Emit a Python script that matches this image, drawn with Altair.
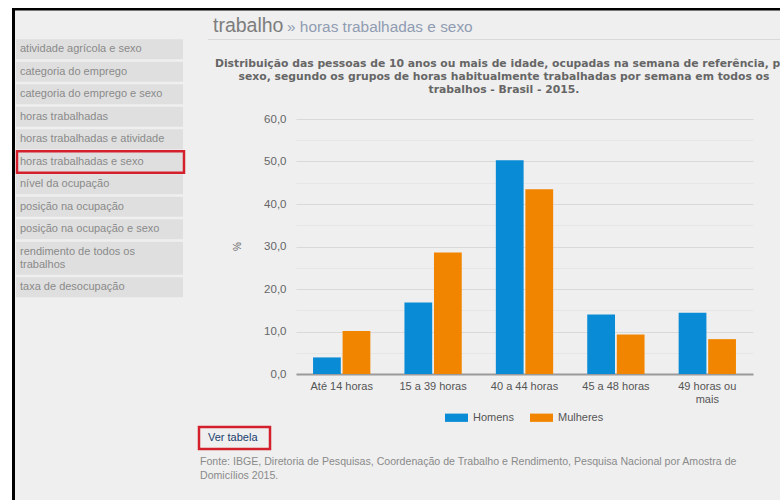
import altair as alt
import pandas as pd

# ---------------- data ----------------
categories = ["Até 14 horas", "15 a 39 horas", "40 a 44 horas", "45 a 48 horas", "49 horas ou mais"]
series = ["Homens", "Mulheres"]
homens = [3.9, 16.8, 50.3, 14.0, 14.4]
mulheres = [10.1, 28.6, 43.5, 9.3, 8.2]
colors = ["#0a8bd6", "#f28500"]
y_values = [0, 5, 10, 15, 20, 25, 30, 35, 40, 45, 50, 55, 60]

menu_items = [
    "atividade agrícola e sexo",
    "categoria do emprego",
    "categoria do emprego e sexo",
    "horas trabalhadas",
    "horas trabalhadas e atividade",
    "horas trabalhadas e sexo",
    "nível da ocupação",
    "posição na ocupação",
    "posição na ocupação e sexo",
    "rendimento de todos os\ntrabalhos",
    "taxa de desocupação",
]
menu_selected = "horas trabalhadas e sexo"
header_main = "trabalho"
header_sub = "» horas trabalhadas e sexo"
title_lines = [
    "Distribuição das pessoas de 10 anos ou mais de idade, ocupadas na semana de referência, por",
    "sexo, segundo os grupos de horas habitualmente trabalhadas por semana em todos os",
    "trabalhos - Brasil - 2015.",
]
link_text = "Ver tabela"
source_lines = [
    "Fonte: IBGE, Diretoria de Pesquisas, Coordenação de Trabalho e Rendimento, Pesquisa Nacional por Amostra de",
    "Domicílios 2015.",
]

df = pd.DataFrame({
    "categoria": categories * 2,
    "sexo": [series[0]] * len(categories) + [series[1]] * len(categories),
    "valor": homens + mulheres,
})

# ---------------- layout ----------------
PL, PT = 296, 119          # plot origin in page pixels
W, H = 457, 255
SANS = "Liberation Sans"
ONE = alt.InlineData(values=[{"k": 0}])


def tx(x):
    return x - PL


def ty(y):
    return y - PT


def text_layer(s, x, y, size, color, font=SANS, weight="normal", align="left", baseline="middle"):
    return alt.Chart(ONE).mark_text(
        text=s, align=align, baseline=baseline, font=font, fontSize=size,
        fontWeight=weight, color=color, lineBreak="\n", lineHeight=13,
    ).encode(x=alt.value(tx(x)), y=alt.value(ty(y)))


def rect_layer(x1, y1, x2, y2, fill):
    return alt.Chart(ONE).mark_rect(fill=fill).encode(
        x=alt.value(tx(x1)), x2=alt.value(tx(x2)), y=alt.value(ty(y1)), y2=alt.value(ty(y2)))


def box_layer(x1, y1, x2, y2, stroke, sw):
    return alt.Chart(ONE).mark_rect(fillOpacity=0, stroke=stroke, strokeWidth=sw).encode(
        x=alt.value(tx(x1)), x2=alt.value(tx(x2)), y=alt.value(ty(y1)), y2=alt.value(ty(y2)))


layers = []
# page frame
layers.append(rect_layer(0, 0, 12, 500, "white"))
layers.append(rect_layer(0, 0, 780, 8, "white"))
layers.append(rect_layer(12, 8, 15, 500, "black"))
layers.append(rect_layer(12, 8, 780, 10.5, "black"))

# sidebar menu
top = 39.3
for item in menu_items:
    h = 33 if "\n" in item else 20
    layers.append(rect_layer(16, top, 183, top + h, "#dfdfdf"))
    layers.append(text_layer(item, 20, top + (10 if h == 20 else 10.5), 11, "#8a8a8a"))
    if item == menu_selected:
        layers.append(box_layer(17, top - 0.5, 184, top + h + 1, "#d3202c", 2.5))
    top += h + 2.5

# header
layers.append(text_layer(header_main, 213, 32, 19.5, "#7d7d7d", baseline="alphabetic"))
layers.append(text_layer(header_sub, 287, 32, 15.4, "#8f9cb2", baseline="alphabetic"))
layers.append(alt.Chart(ONE).mark_rule(color="#d9d9d9", strokeWidth=1).encode(
    x=alt.value(tx(208)), x2=alt.value(tx(780)), y=alt.value(ty(39.5))))

# chart title (first line runs past the right edge, as on the page)
for i, line in enumerate(title_lines):
    layers.append(text_layer(line, 504, 63.5 + 13.4 * i, 10.8, "#666666",
                             font="DejaVu Sans", weight="bold", align="center"))

# link + source
layers.append(box_layer(199, 427, 270, 449, "#d3202c", 2.5))
layers.append(text_layer(link_text, 208, 438, 11, "#1c3d6e"))
for i, line in enumerate(source_lines):
    layers.append(text_layer(line, 200, 462 + 14 * i, 10.6, "#8a8a8a"))

# bars
bars = alt.Chart(df).mark_bar().encode(
    x=alt.X("categoria:N", sort=categories,
            scale=alt.Scale(paddingInner=0.373, paddingOuter=0.1865),
            axis=alt.Axis(title=None, labelAngle=0, ticks=False, tickSize=0,
                          labelPadding=6, labelFont=SANS, labelFontSize=11,
                          labelColor="#555555", labelLineHeight=13, labelBaseline="top",
                          labelExpr="datum.label == '49 horas ou mais' ? ['49 horas ou', 'mais'] : datum.label",
                          domainColor="#9a9a9a", domainWidth=2)),
    xOffset=alt.XOffset("sexo:N", sort=series,
                        scale=alt.Scale(paddingInner=0.06, paddingOuter=0)),
    y=alt.Y("valor:Q", scale=alt.Scale(domain=[0, 60], nice=False),
            axis=alt.Axis(values=y_values, domain=False, ticks=False, tickSize=0,
                          labelPadding=10, labelFont=SANS, labelFontSize=11.5,
                          labelColor="#666666",
                          labelExpr="datum.value % 10 == 0 ? replace(format(datum.value, '.1f'), '.', ',') : ''",
                          gridColor={"condition": {"test": "datum.value % 10 == 0", "value": "#d9d9d9"},
                                     "value": "#e6e6e6"},
                          title="%", titleAngle=270, titleX=-59, titleY=127,
                          titleBaseline="middle", titleFont=SANS, titleFontSize=10,
                          titleFontWeight="normal", titleColor="#666666")),
    color=alt.Color("sexo:N", scale=alt.Scale(domain=series, range=colors),
                    legend=alt.Legend(title=None, orient="none", direction="horizontal",
                                      legendX=149, legendY=287, padding=0,
                                      symbolType="M-1,-0.36H1V0.36H-1Z", symbolSize=529,
                                      symbolStrokeWidth=0, symbolOpacity=1,
                                      labelFont=SANS, labelFontSize=11, labelColor="#555555",
                                      labelOffset=5, columnPadding=16)),
)
layers.append(bars)

chart = alt.layer(*layers).properties(
    width=W, height=H,
    padding={"left": PL, "top": PT, "right": 780 - PL - W, "bottom": 500 - PT - H},
    autosize=alt.AutoSizeParams(type="none"),
    background="#efefef",
).configure_view(strokeWidth=0)

chart.save("out.html", embed_options={"renderer": "svg", "actions": False})
